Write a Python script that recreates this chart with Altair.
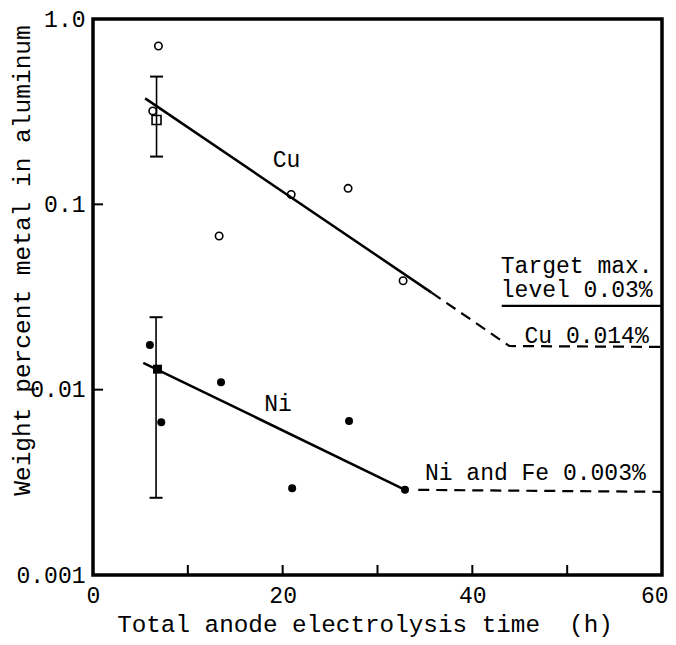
import altair as alt
import pandas as pd

FONT = "Liberation Mono"

# ---- data ----
cu_time = [6.9, 6.3, 20.9, 26.9, 13.3, 32.7]
cu_wt = [0.715, 0.319, 0.113, 0.122, 0.0675, 0.0387]
cu_sq_time = [6.7]
cu_sq_wt = [0.285]
cu_err_time = [6.7]
cu_err_lo = [0.181]
cu_err_hi = [0.489]

ni_time = [6.0, 7.2, 13.5, 27.0, 21.0, 32.9]
ni_wt = [0.0174, 0.00667, 0.01096, 0.00678, 0.00294, 0.00288]
ni_sq_time = [6.8]
ni_sq_wt = [0.0129]
ni_err_time = [6.65]
ni_err_lo = [0.00261]
ni_err_hi = [0.0246]

cu_fit_time = [5.5, 35.7]
cu_fit_wt = [0.373, 0.0334]
cu_proj_time = [35.7, 43.9, 60.0]
cu_proj_wt = [0.0334, 0.0172, 0.0170]
target_time = [43.1, 60.0]
target_wt = [0.0283, 0.0283]
ni_fit_time = [5.3, 32.8]
ni_fit_wt = [0.01397, 0.0029]
ni_proj_time = [34.3, 60.0]
ni_proj_wt = [0.00288, 0.00281]

label_text = ["Cu", "Ni", "Target max.", "level 0.03%", "Cu 0.014%", "Ni and Fe 0.003%"]
label_time = [20.4, 19.5, 43.0, 43.0, 45.5, 35.0]
label_wt = [0.173, 0.00837, 0.0465, 0.0345, 0.0195, 0.00355]
label_align = ["center", "center", "left", "left", "left", "left"]

x_ticks = [10, 20, 30, 40, 50]
y_ticks = [0.01, 0.1]

W, H = 569, 556

xs = alt.Scale(domain=[0, 60], nice=False, zero=False)
ys = alt.Scale(type="log", domain=[0.001, 1], nice=False)

x_axis = alt.Axis(
    values=[0, 20, 40, 60], format="d", ticks=False, domain=False, grid=False,
    labelFont=FONT, labelFontSize=23, labelPadding=9, labelColor="black",
    labelFlush=False, labelOverlap=False,
    labelAlign={"condition": {"test": "datum.value >= 60", "value": "right"}, "value": "center"},
    labelOffset={"condition": {"test": "datum.value >= 60", "value": 6}, "value": 0},
    title="Total anode electrolysis time\u00a0 (h)", titleFont=FONT,
    titleFontSize=24.3, titleFontWeight="normal", titleColor="black",
    titleX=271.5, titleY=49, titleBaseline="middle", titleAlign="center",
)
y_axis = alt.Axis(
    values=[0.001, 0.01, 0.1, 1],
    labelExpr="datum.value > 0.5 ? '1.0' : datum.value > 0.05 ? '0.1' : datum.value > 0.005 ? '0.01' : '0.001'",
    ticks=False, domain=False, grid=False,
    labelFont=FONT, labelFontSize=23, labelPadding=8, labelColor="black",
    labelFlush=False, labelOverlap=False,
    title="Weight percent metal in aluminum", titleFont=FONT,
    titleFontSize=24.5, titleFontWeight="normal", titleColor="black",
    titleX=-71, titleY=241, titleBaseline="middle", titleAlign="center",
)


def X(field="t"):
    return alt.X(f"{field}:Q", scale=xs, axis=x_axis)


def Y(field="w"):
    return alt.Y(f"{field}:Q", scale=ys, axis=y_axis)


def df(t, w):
    return pd.DataFrame({"t": t, "w": w})


cu_pts = alt.Chart(df(cu_time, cu_wt)).mark_point(
    shape="circle", filled=False, size=55, strokeWidth=1.6, color="black", opacity=1
).encode(x=X(), y=Y())
cu_sq = alt.Chart(df(cu_sq_time, cu_sq_wt)).mark_point(
    shape="square", filled=False, size=80, strokeWidth=1.6, color="black", opacity=1
).encode(x=X(), y=Y())
ni_pts = alt.Chart(df(ni_time, ni_wt)).mark_circle(
    size=64, color="black", opacity=1
).encode(x=X(), y=Y())
ni_sq = alt.Chart(df(ni_sq_time, ni_sq_wt)).mark_square(
    size=80, color="black", opacity=1
).encode(x=X(), y=Y())

err_df = pd.DataFrame({
    "t": cu_err_time + ni_err_time,
    "lo": cu_err_lo + ni_err_lo,
    "hi": cu_err_hi + ni_err_hi,
})
err_rule = alt.Chart(err_df).mark_rule(color="black", strokeWidth=1.6).encode(
    x=X(), y=Y("lo"), y2="hi:Q"
)
cap_df = pd.DataFrame({
    "t": cu_err_time * 2 + ni_err_time * 2,
    "w": cu_err_lo + cu_err_hi + ni_err_lo + ni_err_hi,
})
err_caps = alt.Chart(cap_df).mark_tick(
    orient="horizontal", size=13, thickness=2, color="black", opacity=1
).encode(x=X(), y=Y())


def line(t, w, dash=None, sw=2.5):
    kw = dict(color="black", strokeWidth=sw)
    if dash:
        kw["strokeDash"] = dash
    return alt.Chart(df(t, w)).mark_line(**kw).encode(x=X(), y=Y())


cu_fit = line(cu_fit_time, cu_fit_wt)
cu_proj = line(cu_proj_time, cu_proj_wt, dash=[11, 7], sw=2.2)
target = line(target_time, target_wt, sw=2.2)
ni_fit = line(ni_fit_time, ni_fit_wt)
ni_proj = line(ni_proj_time, ni_proj_wt, dash=[11, 7], sw=2.2)

lab_df = pd.DataFrame({"t": label_time, "w": label_wt, "txt": label_text, "al": label_align})
labels_c = alt.Chart(lab_df[lab_df.al == "center"]).mark_text(
    font=FONT, fontSize=23, color="black", align="center", baseline="middle"
).encode(x=X(), y=Y(), text="txt:N")
labels_l = alt.Chart(lab_df[lab_df.al == "left"]).mark_text(
    font=FONT, fontSize=23, color="black", align="left", baseline="middle"
).encode(x=X(), y=Y(), text="txt:N")

xtick = alt.Chart(pd.DataFrame({"t": x_ticks})).mark_rule(
    color="black", strokeWidth=2
).encode(x=X(), y=alt.value(H - 10), y2=alt.value(H))
ytick = alt.Chart(pd.DataFrame({"w": y_ticks})).mark_rule(
    color="black", strokeWidth=2
).encode(y=Y(), x=alt.value(0), x2=alt.value(10))

frame = alt.Chart(pd.DataFrame({"k": [0]})).mark_rect(
    fill="white", fillOpacity=0, stroke="black", strokeWidth=3.5
).encode(x=alt.value(0), x2=alt.value(W), y=alt.value(0), y2=alt.value(H))

chart = alt.layer(
    frame, xtick, ytick, cu_fit, cu_proj, target, ni_fit, ni_proj,
    err_rule, err_caps, cu_pts, cu_sq, ni_pts, ni_sq, labels_c, labels_l,
).properties(
    width=W, height=H,
    autosize=alt.AutoSizeParams(type="none"),
    padding={"left": 85, "top": 11, "right": 6, "bottom": 62},
).configure_view(
    stroke=None
).configure(background="white")

chart.save("out.html", embed_options={"renderer": "svg", "actions": False})
